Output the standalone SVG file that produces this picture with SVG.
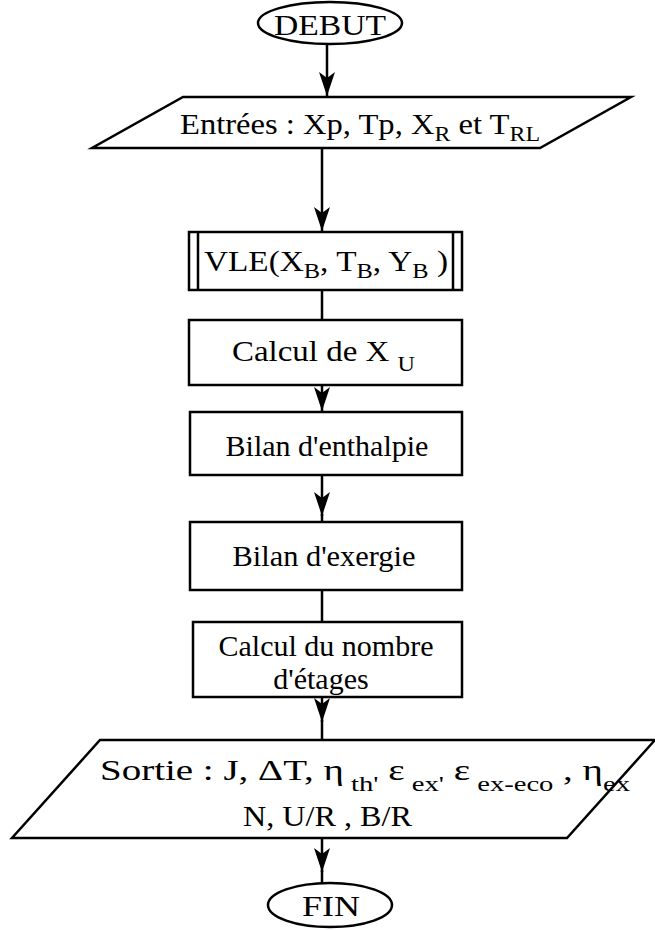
<svg xmlns="http://www.w3.org/2000/svg" width="655" height="930" viewBox="0 0 655 930">
<style>
.s{fill:#fff;stroke:#000;stroke-width:2.5}
.l{fill:none;stroke:#000;stroke-width:2.5}
text{font-family:"Liberation Serif","Times New Roman",serif;font-size:30px;fill:#000}
.sub{font-size:22px}
</style>
<defs>
<marker id="ah" markerUnits="userSpaceOnUse" markerWidth="26" markerHeight="18" refX="24" refY="8" orient="auto" viewBox="0 0 26 18">
<path d="M0,0 L24,8 L0,16 L6,8 Z" fill="#000"/>
</marker>
</defs>
<g id="connectors">
<line class="l" x1="327" y1="45" x2="327" y2="96" marker-end="url(#ah)"/>
<line class="l" x1="322" y1="148" x2="322" y2="231" marker-end="url(#ah)"/>
<line class="l" x1="322" y1="290" x2="322" y2="320"/>
<line class="l" x1="322" y1="385" x2="322" y2="411" marker-end="url(#ah)"/>
<line class="l" x1="322" y1="475" x2="322" y2="516" marker-end="url(#ah)"/>
<line class="l" x1="322" y1="514" x2="322" y2="522"/>
<line class="l" x1="322" y1="590" x2="322" y2="622"/>
<line class="l" x1="322" y1="697" x2="322" y2="722" marker-end="url(#ah)"/>
<line class="l" x1="322" y1="720" x2="322" y2="740"/>
<line class="l" x1="322" y1="838" x2="322" y2="872" marker-end="url(#ah)"/>
<line class="l" x1="322" y1="870" x2="322" y2="884"/>
</g>
<g id="debut">
<ellipse class="s" cx="330" cy="23" rx="72" ry="21"/>
<text x="330" y="35" text-anchor="middle" font-size="32" textLength="112" lengthAdjust="spacingAndGlyphs">DEBUT</text>
</g>
<g id="entrees">
<polygon class="s" points="183,97 631,97 540,148 92,148"/>
<text x="180" y="134" textLength="360" lengthAdjust="spacingAndGlyphs" font-size="31">Entrées : Xp, Tp, X<tspan class="sub" dy="7">R</tspan><tspan dy="-7"> et T</tspan><tspan class="sub" dy="7">RL</tspan></text>
</g>
<g id="vle">
<rect class="s" x="189" y="232" width="273" height="58"/>
<line class="l" x1="198" y1="232" x2="198" y2="290"/>
<line class="l" x1="453" y1="232" x2="453" y2="290"/>
<text x="204" y="271" textLength="244" lengthAdjust="spacingAndGlyphs">VLE(X<tspan class="sub" dy="7">B</tspan><tspan dy="-7">, T</tspan><tspan class="sub" dy="7">B</tspan><tspan dy="-7">, Y</tspan><tspan class="sub" dy="7">B</tspan><tspan dy="-7"> )</tspan></text>
</g>
<g id="calcul_xu">
<rect class="s" x="189" y="320" width="273" height="65"/>
<text x="232" y="361" textLength="183" lengthAdjust="spacingAndGlyphs">Calcul de X <tspan class="sub" dy="10">U</tspan></text>
</g>
<g id="bilan_enthalpie">
<rect class="s" x="190" y="412" width="272" height="63"/>
<text x="327" y="456" text-anchor="middle" font-size="28">Bilan d'enthalpie</text>
</g>
<g id="bilan_exergie">
<rect class="s" x="190" y="522" width="272" height="68"/>
<text x="324" y="566" text-anchor="middle" textLength="183" lengthAdjust="spacingAndGlyphs">Bilan d'exergie</text>
</g>
<g id="calcul_nombre">
<rect class="s" x="193" y="622" width="269" height="75"/>
<text x="326" y="656" text-anchor="middle" font-size="28">Calcul du nombre</text>
<text x="321" y="689" text-anchor="middle" font-size="29">d'étages</text>
</g>
<g id="sortie">
<polygon class="s" points="100,740 655,740 567,838 12,838"/>
<text x="100" y="780" textLength="530" lengthAdjust="spacingAndGlyphs">Sortie : J, ΔT, η<tspan class="sub" dy="11"> th'</tspan><tspan dy="-11"> ε</tspan><tspan class="sub" dy="11"> ex'</tspan><tspan dy="-11"> ε</tspan><tspan class="sub" dy="11"> ex-eco</tspan><tspan dy="-11">  , η</tspan><tspan class="sub" dy="11">ex</tspan></text>
<text x="243" y="826" textLength="169" lengthAdjust="spacingAndGlyphs">N, U/R , B/R</text>
</g>
<g id="fin">
<ellipse class="s" cx="330" cy="905" rx="62" ry="22"/>
<text x="331" y="916" text-anchor="middle" font-size="32" textLength="58" lengthAdjust="spacingAndGlyphs">FIN</text>
</g>
</svg>
